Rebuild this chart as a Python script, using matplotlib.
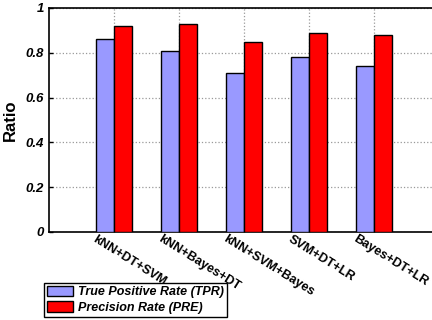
import matplotlib
matplotlib.use("Agg")
import matplotlib.pyplot as plt
import matplotlib.transforms as mtransforms
import numpy as np

categories = ["kNN+DT+SVM", "kNN+Bayes+DT", "kNN+SVM+Bayes", "SVM+DT+LR", "Bayes+DT+LR"]
tpr = [0.86, 0.81, 0.71, 0.78, 0.74]
pre = [0.92, 0.93, 0.85, 0.89, 0.88]
yticks = [0, 0.2, 0.4, 0.6, 0.8, 1]
yticklabels = ["0", "0.2", "0.4", "0.6", "0.8", "1"]

plt.rcParams['font.family'] = ['Liberation Sans', 'DejaVu Sans']
fig = plt.figure(figsize=(4.32, 3.2), dpi=100)
ax = fig.add_axes([49/432, (320-232)/320, 390/432, 224/320])

x = np.arange(1, len(categories) + 1)
w = 0.28
ax.bar(x - w/2, tpr, w, color="#9999FF", edgecolor="black", linewidth=1.0, label="True Positive Rate (TPR)", zorder=3)
ax.bar(x + w/2, pre, w, color="#FF0000", edgecolor="black", linewidth=1.0, label="Precision Rate (PRE)", zorder=3)

ax.set_xlim(0, 6)
ax.set_ylim(0, 1)
ax.set_xticks(x)
ax.set_xticklabels([""] * len(categories))
base = ax.get_xaxis_transform()
offset = mtransforms.ScaledTranslation(-17/100, -1/100, fig.dpi_scale_trans)
for xi, cat in zip(x, categories):
    ax.text(xi, 0, cat, transform=base + offset, rotation=-32, ha="left", va="top",
            rotation_mode="anchor", fontsize=9.1, fontweight="bold", clip_on=False)
ax.set_yticks(yticks)
ax.set_yticklabels(yticklabels, fontsize=9.5, fontweight="bold", style="italic")
ax.set_ylabel("Ratio", fontsize=12, fontweight="bold", labelpad=6)
ax.grid(True, linestyle=":", color="#999999", linewidth=0.9, zorder=0)
ax.tick_params(direction="in", length=3, width=1)
for s in ax.spines.values():
    s.set_linewidth(1.2)

leg = fig.legend(loc="lower left", bbox_to_anchor=(44/432, 3/320), fancybox=False,
                 edgecolor="black", framealpha=1, borderpad=0.25, labelspacing=0.25,
                 handlelength=2.1, handleheight=0.9, handletextpad=0.35, borderaxespad=0,
                 prop={"size": 9, "weight": "bold", "style": "italic"})
leg.get_frame().set_linewidth(1.0)

fig.savefig("out.png", dpi=100)
